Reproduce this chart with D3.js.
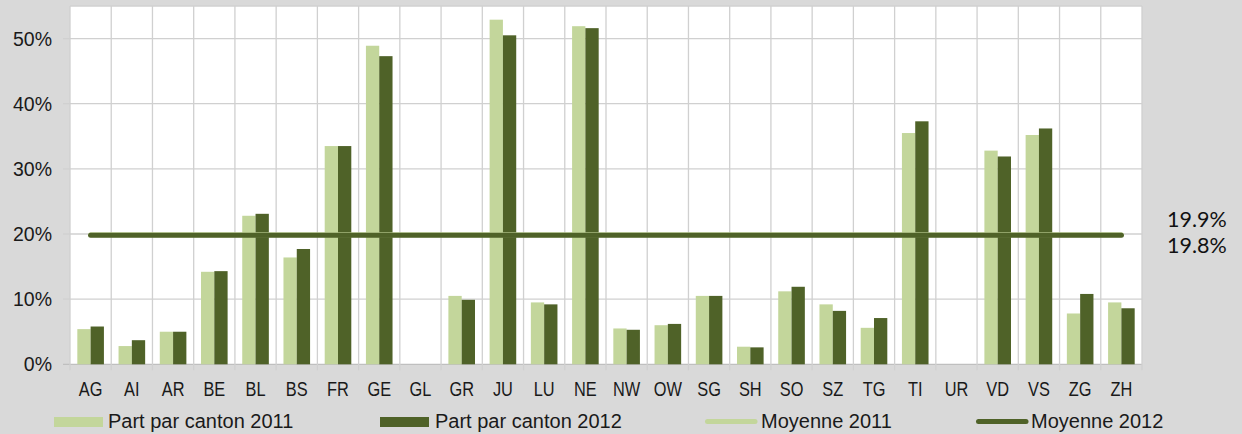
<!DOCTYPE html>
<html>
<head>
<meta charset="utf-8">
<script src="https://cdn.jsdelivr.net/npm/d3@7"></script>
<style>
  html, body { margin: 0; padding: 0; background: #d9d9d9; }
  svg { display: block; }
  .tick-label { font-family: "Liberation Sans", Arial, sans-serif; fill: #1a1a1a; }
</style>
</head>
<body>
<div id="chart"></div>
<script>
// cantons
var cantons = ["AG","AI","AR","BE","BL","BS","FR","GE","GL","GR","JU","LU","NE",
               "NW","OW","SG","SH","SO","SZ","TG","TI","UR","VD","VS","ZG","ZH"];

// part par canton, in %
var part2011 = [5.4, 2.8, 5.0, 14.2, 22.8, 16.4, 33.5, 48.9, 0, 10.5, 52.9, 9.5, 51.9,
                5.5, 6.0, 10.5, 2.7, 11.2, 9.2, 5.6, 35.5, 0, 32.8, 35.2, 7.8, 9.5];
var part2012 = [5.8, 3.7, 5.0, 14.3, 23.1, 17.7, 33.5, 47.3, 0, 9.9, 50.5, 9.2, 51.6,
                5.3, 6.2, 10.5, 2.6, 11.9, 8.2, 7.1, 37.3, 0, 31.9, 36.2, 10.8, 8.6];

var moyenne2011 = 19.9;
var moyenne2012 = 19.8;

var yTicks = [0, 10, 20, 30, 40, 50];
var seriesNames = ["Part par canton 2011", "Part par canton 2012", "Moyenne 2011", "Moyenne 2012"];

var colLight = "#c3d69b";
var colDark = "#4f6228";
var gridCol = "#d0d0d0";

var W = 1242, H = 434;
var margin = {top: 6, right: 100, bottom: 70, left: 70};
var width = 1142 - margin.left;
var height = 364.3 - margin.top;

var svg = d3.select("#chart").append("svg")
    .attr("width", W)
    .attr("height", H);

svg.append("rect").attr("width", W).attr("height", H).attr("fill", "#d9d9d9");

var g = svg.append("g")
    .attr("transform", "translate(" + margin.left + "," + margin.top + ")");

var x = d3.scaleBand().domain(cantons).range([0, width]).padding(0);
var x1 = d3.scaleBand().domain(["2011", "2012"]).range([0, x.bandwidth()]).paddingOuter(0.55).paddingInner(0);
var y = d3.scaleLinear().domain([0, 55]).range([height, 0]);

// plot background
g.append("rect").attr("width", width).attr("height", height).attr("fill", "#fff");

// horizontal grid + left tick marks
g.selectAll(".hgrid")
    .data(yTicks.concat([55]))
    .enter().append("line")
    .attr("x1", function(d) { return d === 55 ? 0 : -7; })
    .attr("x2", width)
    .attr("y1", function(d) { return y(d); })
    .attr("y2", function(d) { return y(d); })
    .attr("stroke", function(d) { return d === 0 ? "#bfbfbf" : gridCol; })
    .attr("stroke-width", 1.3);

// vertical grid at category boundaries, with tick marks below
var bounds = d3.range(cantons.length + 1).map(function(i) { return i * x.step(); });
g.selectAll(".vgrid")
    .data(bounds)
    .enter().append("line")
    .attr("x1", function(d) { return d; })
    .attr("x2", function(d) { return d; })
    .attr("y1", 0)
    .attr("y2", height + 6)
    .attr("stroke", gridCol)
    .attr("stroke-width", 1.3);

// y labels
g.selectAll(".ylab")
    .data(yTicks)
    .enter().append("text")
    .attr("class", "tick-label")
    .attr("x", -18)
    .attr("y", function(d) { return y(d); })
    .attr("dy", "0.36em")
    .attr("text-anchor", "end")
    .attr("font-size", 19.5)
    .text(function(d) { return d + "%"; });

// x labels (the original ones are a bit condensed)
g.selectAll(".xlab")
    .data(cantons)
    .enter().append("text")
    .attr("class", "tick-label")
    .attr("transform", function(d) {
      return "translate(" + (x(d) + x.bandwidth() / 2) + "," + (height + 32) + ") scale(0.84,1)";
    })
    .attr("text-anchor", "middle")
    .attr("font-size", 19.5)
    .text(function(d) { return d; });

// bars
var rows = cantons.map(function(c, i) {
  return {canton: c, v2011: part2011[i], v2012: part2012[i]};
});

g.selectAll(".bar2011")
    .data(rows)
    .enter().append("rect")
    .attr("x", function(d) { return x(d.canton) + x1("2011"); })
    .attr("y", function(d) { return y(d.v2011); })
    .attr("width", x1.bandwidth())
    .attr("height", function(d) { return height - y(d.v2011); })
    .attr("fill", colLight);

g.selectAll(".bar2012")
    .data(rows)
    .enter().append("rect")
    .attr("x", function(d) { return x(d.canton) + x1("2012"); })
    .attr("y", function(d) { return y(d.v2012); })
    .attr("width", x1.bandwidth())
    .attr("height", function(d) { return height - y(d.v2012); })
    .attr("fill", colDark);

// average lines
var xFirst = x(cantons[0]) + x.bandwidth() / 2;
var xLast = x(cantons[cantons.length - 1]) + x.bandwidth() / 2;

[[moyenne2011, colLight], [moyenne2012, colDark]].forEach(function(m) {
  g.append("line")
      .attr("x1", xFirst).attr("x2", xLast)
      .attr("y1", y(m[0])).attr("y2", y(m[0]))
      .attr("stroke", m[1])
      .attr("stroke-width", 5)
      .attr("stroke-linecap", "round");
});

// value labels on the right
svg.append("text")
    .attr("x", 1167).attr("y", 227)
    .attr("font-family", "Lato, 'Open Sans', sans-serif")
    .attr("font-size", 21.5)
    .attr("fill", "#111")
    .text(moyenne2011.toFixed(1) + "%");
svg.append("text")
    .attr("x", 1167).attr("y", 253)
    .attr("font-family", "Lato, 'Open Sans', sans-serif")
    .attr("font-size", 21.5)
    .attr("fill", "#111")
    .text(moyenne2012.toFixed(1) + "%");

// legend
var legendItems = [
  {name: seriesNames[0], color: colLight, type: "rect", x: 54, tx: 108},
  {name: seriesNames[1], color: colDark, type: "rect", x: 380, tx: 435},
  {name: seriesNames[2], color: colLight, type: "line", x: 705, tx: 761},
  {name: seriesNames[3], color: colDark, type: "line", x: 976, tx: 1031}
];

var leg = svg.append("g");
legendItems.forEach(function(it) {
  if (it.type === "rect") {
    leg.append("rect")
        .attr("x", it.x).attr("y", 417)
        .attr("width", 49).attr("height", 10)
        .attr("fill", it.color);
  } else {
    leg.append("line")
        .attr("x1", it.x + 2.5).attr("x2", it.x + 50)
        .attr("y1", 421.5).attr("y2", 421.5)
        .attr("stroke", it.color)
        .attr("stroke-width", 5)
        .attr("stroke-linecap", "round");
  }
  leg.append("text")
      .attr("class", "tick-label")
      .attr("x", it.tx)
      .attr("y", 427.5)
      .attr("font-size", 20)
      .text(it.name);
});
</script>
</body>
</html>
